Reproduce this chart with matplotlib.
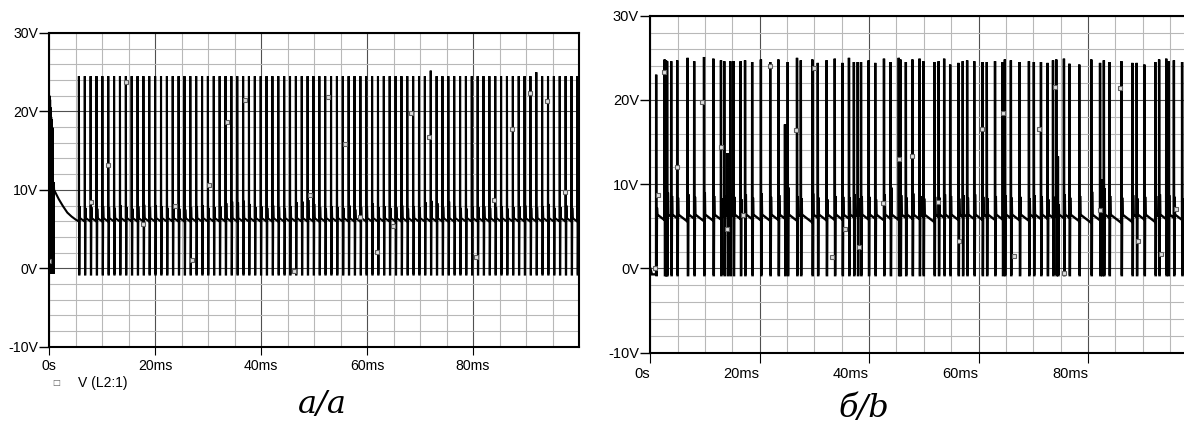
import matplotlib
matplotlib.use("Agg")
import matplotlib.pyplot as plt
from matplotlib.ticker import MultipleLocator, FixedLocator

plt.rcParams['font.family'] = ['Liberation Sans', 'DejaVu Sans']

# --- trace a: start-up burst, decay, then a steady pulse train (ms, V) ---
a_start_t = [0.0, 0.05, 0.1, 0.15, 0.2, 0.25, 0.3, 0.35, 0.4, 0.45, 0.5, 0.55, 0.6, 0.65, 0.7, 0.75, 0.8, 0.85, 0.9]
a_start_v = [0.0, 22.0, -0.7, 21.5, -0.7, 20.5, -0.7, 19.3, -0.7, 19.0, -0.7, 18.0, -0.7, 17.8, -0.7, 11.0, -0.7, 11.0, 10.0]
a_decay_t = [1.2, 1.8, 2.6, 3.4, 4.2, 5.0, 5.5]
a_decay_v = [9.6, 8.8, 7.9, 7.1, 6.6, 6.2, 6.0]

a_pulse_t = [5.57, 6.68, 7.78, 8.89, 10.00, 11.11, 12.21, 13.32, 14.43, 15.53,
             16.64, 17.75, 18.85, 19.96, 21.07, 22.18, 23.28, 24.39, 25.50, 26.60,
             27.71, 28.82, 29.92, 31.03, 32.14, 33.25, 34.35, 35.46, 36.57, 37.67,
             38.78, 39.89, 40.99, 42.10, 43.21, 44.32, 45.42, 46.53, 47.64, 48.74,
             49.85, 50.96, 52.06, 53.17, 54.28, 55.39, 56.49, 57.60, 58.71, 59.81,
             60.92, 62.03, 63.13, 64.24, 65.35, 66.46, 67.56, 68.67, 69.78, 70.88,
             71.99, 73.10, 74.20, 75.31, 76.42, 77.53, 78.63, 79.74, 80.85, 81.95,
             83.06, 84.17, 85.27, 86.38, 87.49, 88.60, 89.70, 90.81, 91.92, 93.02,
             94.13, 95.24, 96.34, 97.45, 98.56, 99.67]
a_pulse_peak = [24.5] * 60 + [25.2] + [24.5] * 17 + [25.0] + [24.5] * 7
a_spike = [7.9, 7.7, 7.8, 7.6, 7.9, 7.8, 7.7, 8.0, 7.8, 7.6,
           7.9, 8.1, 7.8, 8.0, 7.9, 7.7, 7.8, 7.6, 7.5, 7.8,
           7.9, 8.0, 7.7, 7.8, 7.9, 8.3, 8.5, 8.4, 8.6, 8.2,
           7.8, 7.9, 7.7, 8.0, 7.8, 7.6, 7.9, 8.4, 8.5, 8.7,
           8.2, 7.8, 7.6, 7.9, 7.8, 7.7, 8.0, 7.5, 7.8, 7.9,
           8.3, 7.8, 7.9, 7.7, 7.8, 8.0, 7.6, 7.9, 7.8, 8.4,
           8.6, 8.3, 7.8, 8.5, 7.9, 7.7, 7.6, 7.9, 7.8, 7.9,
           7.7, 7.8, 7.9, 7.6, 7.8, 7.9, 8.0, 7.7, 7.8, 7.9,
           8.2, 7.7, 7.8, 8.0, 7.7, 7.9]

a_mark_t = [0.0, 7.9, 11.1, 14.4, 17.6, 23.7, 26.9, 30.2, 33.6, 36.9, 46.2, 49.3,
            52.6, 55.9, 58.6, 61.8, 64.9, 68.3, 71.6, 80.6, 84.0, 87.4, 90.8, 94.0, 97.4]
a_mark_v = [0.9, 8.5, 13.2, 23.8, 5.7, 8.0, 1.0, 10.6, 18.7, 21.5, -0.4, 9.3,
            21.8, 15.8, 6.5, 2.1, 5.4, 19.8, 16.8, 1.5, 8.7, 17.8, 22.3, 21.3, 9.7]

# --- trace b: irregular pulse train ---
b_start_t = [0.0, 0.3, 0.9]
b_start_v = [0.0, -0.7, -0.7]
b_pulse_t = [1.05, 2.6, 2.85, 3.05, 3.8, 4.9, 6.8, 8.0, 9.8, 11.5,
             12.9, 13.5, 14.1, 14.6, 15.2, 16.5, 17.3, 18.6, 20.2, 21.9,
             23.4, 24.6, 25.1, 26.8, 27.5, 29.6, 30.6, 32.2, 33.7, 35.1,
             36.3, 37.2, 37.9, 38.5, 39.9, 41.1, 42.7, 43.9, 45.4, 45.7,
             46.7, 47.9, 49.2, 49.9, 51.9, 52.7, 53.7, 54.8, 56.3, 57.1,
             57.9, 59.2, 60.7, 61.5, 63.0, 64.4, 64.8, 65.9, 67.5, 69.2,
             70.1, 71.4, 72.6, 73.6, 74.2, 74.5, 75.6, 76.6, 78.4, 80.6,
             82.2, 82.55, 82.9, 83.9, 86.1, 88.1, 88.9, 90.3, 92.3, 93.0,
             94.3, 94.7, 95.7, 97.2]
b_pulse_peak = [23.0, 24.8, 24.7, 24.6, 24.6, 24.7, 25.0, 24.6, 25.1, 24.9,
                24.7, 24.6, 13.7, 24.6, 24.6, 24.6, 24.7, 24.5, 24.8, 24.5,
                24.8, 17.1, 24.5, 25.0, 24.7, 24.8, 24.4, 24.7, 24.9, 24.4,
                25.0, 24.5, 24.5, 24.5, 24.7, 24.4, 24.9, 24.5, 25.0, 24.8,
                24.5, 24.8, 24.9, 24.6, 24.5, 24.6, 24.9, 24.2, 24.4, 24.6,
                24.7, 24.6, 24.5, 24.5, 24.6, 24.5, 24.8, 24.7, 24.5, 24.6,
                24.5, 24.5, 24.4, 24.7, 24.8, 13.3, 24.9, 24.3, 24.2, 24.8,
                24.4, 10.6, 24.7, 24.5, 24.6, 24.4, 24.4, 24.2, 24.5, 24.8,
                24.9, 24.6, 24.7, 24.5]
b_spike = [7.2, 8.8, 9.5, 9.0, 8.6, 8.4, 8.8, 8.5, 9.0, 8.6,
           8.3, 8.7, 7.5, 8.9, 8.5, 8.2, 8.8, 8.4, 8.9, 8.5,
           8.7, 7.8, 9.6, 8.6, 8.3, 8.9, 8.4, 8.2, 8.6, 8.5,
           8.4, 8.8, 8.3, 8.6, 8.5, 8.2, 8.8, 9.6, 9.2, 8.7,
           8.4, 8.9, 8.6, 8.3, 8.5, 8.4, 8.8, 8.6, 8.3, 8.7,
           8.4, 8.8, 8.5, 8.3, 8.6, 9.2, 8.7, 8.4, 8.5, 8.3,
           8.7, 8.6, 8.2, 8.5, 9.0, 7.6, 8.8, 8.4, 8.6, 9.1,
           8.5, 7.4, 9.5, 8.6, 8.4, 8.7, 8.3, 8.5, 8.6, 8.8,
           8.4, 8.7, 8.5, 8.3]

b_mark_t = [0.9, 1.4, 2.56, 4.9, 9.45, 12.9, 14.1, 17.0, 21.9, 26.6, 29.9, 33.2,
            35.6, 38.2, 42.5, 45.5, 47.9, 52.6, 56.4, 60.7, 64.4, 66.4, 71.1, 74.0,
            75.7, 82.2, 85.9, 89.2, 93.4, 96.1]
b_mark_v = [0.1, 8.7, 23.3, 12.0, 19.8, 14.4, 4.7, 6.4, 24.0, 16.4, 23.8, 1.4,
            4.7, 2.5, 7.8, 13.0, 13.4, 7.9, 3.3, 16.6, 18.4, 1.5, 16.5, 21.5,
            -0.5, 6.9, 21.4, 3.3, 1.7, 7.0]

x_ticks = [0, 20, 40, 60, 80]
x_labels = ['0s', '20ms', '40ms', '60ms', '80ms']
y_ticks = [-10, 0, 10, 20, 30]
y_labels = ['-10V', '0V', '10V', '20V', '30V']

LOW = -0.8     # undershoot of every pulse
REST = 6.4     # level right after the small spike
DECAY = 0.5    # V per ms sag between pulses
FLOOR = 4.8


def build_trace(t0, v0, times, peaks, spikes, t_end):
    xs, ys = list(t0), list(v0)
    lvl, prev = ys[-1], xs[-1]
    for t, pk, sp in zip(times, peaks, spikes):
        v_at = max(lvl - DECAY * (t - prev), min(FLOOR, lvl))
        xs += [t, t + 0.02, t + 0.07, t + 0.12, t + 0.17, t + 0.23]
        ys += [v_at, pk, LOW, LOW, sp, REST]
        lvl, prev = REST, t + 0.23
    if prev < t_end:
        xs.append(t_end)
        ys.append(max(lvl - DECAY * (t_end - prev), FLOOR))
    return xs, ys


def style_axes(ax, xlen, fs, x_ha='center'):
    ax.set_xlim(0, 100)
    ax.set_ylim(-10, 30)
    ax.xaxis.set_major_locator(FixedLocator(x_ticks))
    ax.xaxis.set_minor_locator(MultipleLocator(5))
    ax.yaxis.set_major_locator(FixedLocator(y_ticks))
    ax.yaxis.set_minor_locator(MultipleLocator(2))
    ax.set_xticklabels(x_labels, ha=x_ha)
    ax.set_yticklabels(y_labels)
    ax.grid(which='minor', color='#b8b8b8', lw=0.8)
    ax.grid(which='major', color='#505050', lw=0.8)
    ax.set_axisbelow(True)
    ax.tick_params(axis='y', which='major', length=7.2, width=1.0, pad=1, labelsize=fs)
    ax.tick_params(axis='x', which='major', length=xlen, width=0.8, pad=3, labelsize=fs)
    ax.tick_params(which='minor', length=0)
    for s in ax.spines.values():
        s.set_linewidth(1.5)
        s.set_color('black')


fig = plt.figure(figsize=(11.84, 4.29), dpi=100)

# panel a
ax_a = fig.add_axes([49.3 / 1184, 1 - 346.7 / 429, 529.7 / 1184, 313.7 / 429])
style_axes(ax_a, 6, 10.2)
xa, ya = build_trace(a_start_t + a_decay_t, a_start_v + a_decay_v,
                     a_pulse_t, a_pulse_peak, a_spike, 100)
ax_a.plot(xa, ya, color='black', lw=1.5, solid_joinstyle='miter')
ax_a.plot(a_mark_t, a_mark_v, ls='none', marker='s', ms=3.5, mfc='#e0e0e0',
          mec='#606060', mew=0.8)

# panel b
ax_b = fig.add_axes([650.3 / 1184, 1 - 352.7 / 429, 547 / 1184, 337 / 429])
style_axes(ax_b, 7.5, 10.5, x_ha='right')
xb, yb = build_trace(b_start_t, b_start_v, b_pulse_t, b_pulse_peak, b_spike, 100)
ax_b.plot(xb, yb, color='black', lw=1.7, solid_joinstyle='miter')
ax_b.plot(b_mark_t, b_mark_v, ls='none', marker='s', ms=3.5, mfc='#e0e0e0',
          mec='#606060', mew=0.8)

# legend entry under panel a
fig.text(56 / 1184, 1 - 383 / 429, '\u25a1', color='#606060', fontsize=6,
         ha='center', va='center', family='DejaVu Sans')
fig.text(78 / 1184, 1 - 383 / 429, 'V (L2:1)', fontsize=10, ha='left', va='center')

# panel captions
fig.text(322 / 1184, 1 - 405 / 429, 'a/a', fontsize=23, style='italic',
         family='DejaVu Serif', ha='center', va='center')
fig.text(864 / 1184, 1 - 409 / 429, '\u0431/b', fontsize=23, style='italic',
         family='DejaVu Serif', ha='center', va='center')

fig.savefig('out.png', dpi=100)
